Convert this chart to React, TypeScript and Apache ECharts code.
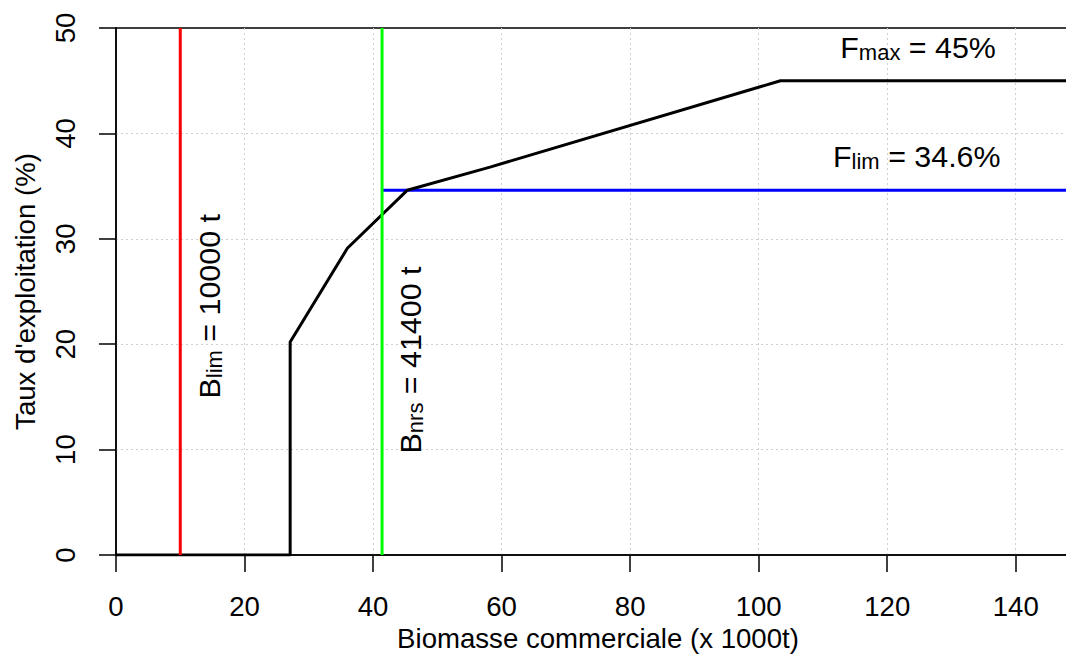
import React, { useEffect, useRef } from "react";
import * as echarts from "echarts";

// ---- data ----
const hcrBiomass = [0, 27.1, 27.1, 36.0, 45.3, 58.2, 103.4, 150];
const hcrRate = [0, 0, 20.2, 29.1, 34.6, 36.8, 45, 45];
const B_LIM = 10;
const B_NRS = 41.4;
const F_LIM = 34.6;
const F_MAX = 45;
const X_MIN = 0;
const X_MAX = 150;
const X_INTERVAL = 20;
const Y_MIN = 0;
const Y_MAX = 50;
const Y_INTERVAL = 10;

const xTitle = "Biomasse commerciale (x 1000t)";
const yTitle = "Taux d'exploitation (%)";

// annotation texts: [main, subscript, rest]
const bLimText = ["B", "lim", " = 10000 t"];
const bNrsText = ["B", "nrs", " = 41400 t"];
const fMaxText = ["F", "max", " = 45%"];
const fLimText = ["F", "lim", " = 34.6%"];

// annotation anchors (data coordinates)
const bLimAnchor = [14.4, 23.6];
const bNrsAnchor = [45.7, 18.5];
const fMaxAnchor = [124.8, 48.2];
const fLimAnchor = [124.6, 37.9];

const FONT = "'Liberation Sans', Arial, Helvetica, sans-serif";
const FS = 27.6;
const FS_ANN = 30.4;
const FS_SUB = 22;

export default function App() {
  const ref = useRef<HTMLDivElement>(null);

  useEffect(() => {
    if (!ref.current) return;
    const chart = echarts.init(ref.current, null, { renderer: "svg" });

    const hcrData = hcrBiomass.map((x, i) => [x, hcrRate[i]]);

    const split = {
      show: true,
      showMinLine: false,
      showMaxLine: false,
      lineStyle: { color: "#cfcfcf", width: 1, type: [2, 3] },
    };

    const option: any = {
      animation: false,
      backgroundColor: "#ffffff",
      grid: {
        left: 116,
        top: 28,
        width: 964,
        height: 527,
        show: true,
        borderColor: "#000",
        borderWidth: 1.5,
        containLabel: false,
        outerBoundsMode: "none",
      },
      xAxis: {
        type: "value",
        min: X_MIN,
        max: X_MAX,
        interval: X_INTERVAL,
        name: xTitle,
        nameLocation: "middle",
        nameGap: 64,
        nameTextStyle: { fontSize: FS, fontFamily: FONT, color: "#000" },
        axisLine: { show: true, onZero: false, lineStyle: { color: "#000", width: 1.5 } },
        axisTick: { show: true, inside: false, length: 17, lineStyle: { color: "#000", width: 1.5 } },
        axisLabel: {
          show: true,
          margin: 37,
          fontSize: FS,
          fontFamily: FONT,
          color: "#000",
          showMaxLabel: false,
        },
        splitLine: split,
      },
      yAxis: {
        type: "value",
        min: Y_MIN,
        max: Y_MAX,
        interval: Y_INTERVAL,
        name: yTitle,
        nameLocation: "middle",
        nameGap: 77,
        nameTextStyle: { fontSize: FS, fontFamily: FONT, color: "#000" },
        axisLine: { show: true, onZero: false, lineStyle: { color: "#000", width: 1.5 } },
        axisTick: { show: true, inside: false, length: 17, lineStyle: { color: "#000", width: 1.5 } },
        axisLabel: {
          show: true,
          rotate: 90,
          margin: 37,
          fontSize: FS,
          fontFamily: FONT,
          color: "#000",
        },
        splitLine: split,
      },
      series: [
        {
          name: "HCR",
          type: "line",
          data: hcrData,
          symbol: "none",
          lineStyle: { color: "#000", width: 3 },
          z: 3,
        },
        {
          name: "Blim",
          type: "line",
          data: [
            [B_LIM, Y_MIN],
            [B_LIM, Y_MAX],
          ],
          symbol: "none",
          lineStyle: { color: "#ff0000", width: 3 },
          z: 4,
        },
        {
          name: "Bnrs",
          type: "line",
          data: [
            [B_NRS, Y_MIN],
            [B_NRS, Y_MAX],
          ],
          symbol: "none",
          lineStyle: { color: "#00ff00", width: 3 },
          z: 4,
        },
        {
          name: "Flim",
          type: "line",
          data: [
            [B_NRS, F_LIM],
            [X_MAX, F_LIM],
          ],
          symbol: "none",
          lineStyle: { color: "#0000ff", width: 3 },
          z: 2,
        },
      ],
    };

    chart.setOption(option);

    const rich = {
      m: { fontSize: FS_ANN, fontFamily: FONT, fill: "#000", lineHeight: 34 },
      s: {
        fontSize: FS_SUB,
        fontFamily: FONT,
        fill: "#000",
        lineHeight: 15,
        verticalAlign: "bottom",
      },
    };
    const mk = (parts: string[], anchor: number[], rotated: boolean) => {
      const p = chart.convertToPixel({ gridIndex: 0 }, anchor) as number[];
      return {
        type: "text",
        x: p[0],
        y: p[1],
        rotation: rotated ? Math.PI / 2 : 0,
        z: 10,
        style: {
          text: `{m|${parts[0]}}{s|${parts[1]}}{m|${parts[2]}}`,
          rich,
          align: "center",
          verticalAlign: "middle",
          textAlign: "center",
          textVerticalAlign: "middle",
        },
      };
    };

    chart.setOption({
      graphic: [
        mk(bLimText, bLimAnchor, true),
        mk(bNrsText, bNrsAnchor, true),
        mk(fMaxText, fMaxAnchor, false),
        mk(fLimText, fLimAnchor, false),
      ],
    });

    return () => chart.dispose();
  }, []);

  return (
    <div
      ref={ref}
      style={{ position: "fixed", left: 0, top: 0, width: 1066, height: 663, background: "#fff" }}
    />
  );
}
